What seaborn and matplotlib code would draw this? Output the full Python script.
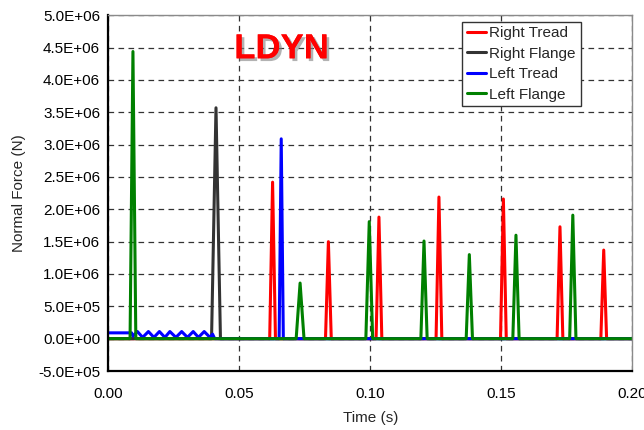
import numpy as np
import pandas as pd
import matplotlib
matplotlib.use("Agg")
import matplotlib.pyplot as plt
import matplotlib.patheffects as pe
import seaborn as sns

# ---- data ----
rt_t = [0.0, 0.0616, 0.0627, 0.0638, 0.0829, 0.0840, 0.0851, 0.1022, 0.1033, 0.1044,
        0.1251, 0.1262, 0.1273, 0.1497, 0.1508, 0.1519, 0.1713, 0.1724, 0.1735,
        0.1880, 0.1891, 0.1902, 0.2]
rt_f = [0, 0, 2.42e6, 0, 0, 1.50e6, 0, 0, 1.88e6, 0,
        0, 2.19e6, 0, 0, 2.16e6, 0, 0, 1.73e6, 0,
        0, 1.37e6, 0, 0]

rf_t = [0.0, 0.0394, 0.0411, 0.0428, 0.2]
rf_f = [0, 0, 3.57e6, 0, 0]

lt_t = [0.0, 0.0089, 0.0094, 0.0111, 0.0131, 0.0153, 0.0174, 0.0195, 0.0216, 0.0235,
        0.0258, 0.0280, 0.0302, 0.0324, 0.0344, 0.0366, 0.0388, 0.0398, 0.0406,
        0.0652, 0.0660, 0.0668, 0.2]
lt_f = [0.09e6, 0.09e6, 0.04e6, 0.11e6, 0.02e6, 0.11e6, 0.02e6, 0.11e6, 0.02e6, 0.11e6,
        0.02e6, 0.11e6, 0.02e6, 0.11e6, 0.02e6, 0.11e6, 0.02e6, 0.07e6, 0,
        0, 3.09e6, 0, 0]

lf_t = [0.0, 0.0083, 0.0094, 0.0105, 0.0717, 0.0732, 0.0747, 0.0983, 0.0996, 0.1009,
        0.1193, 0.1205, 0.1217, 0.1366, 0.1378, 0.1390, 0.1544, 0.1556, 0.1568,
        0.1761, 0.1773, 0.1785, 0.2]
lf_f = [0, 0, 4.44e6, 0, 0, 0.86e6, 0, 0, 1.81e6, 0,
        0, 1.51e6, 0, 0, 1.30e6, 0, 0, 1.60e6, 0,
        0, 1.91e6, 0, 0]

series_names = ["Right Tread", "Right Flange", "Left Tread", "Left Flange"]
series_colors = ["#FF0000", "#333333", "#0000FF", "#008000"]

yticks = [-5e5, 0, 5e5, 1e6, 1.5e6, 2e6, 2.5e6, 3e6, 3.5e6, 4e6, 4.5e6, 5e6]
ytick_labels = ["-5.0E+05", "0.0E+00", "5.0E+05", "1.0E+06", "1.5E+06", "2.0E+06",
                "2.5E+06", "3.0E+06", "3.5E+06", "4.0E+06", "4.5E+06", "5.0E+06"]
xticks = [0.0, 0.05, 0.10, 0.15, 0.20]
xtick_labels = ["0.00", "0.05", "0.10", "0.15", "0.20"]

frames = []
for name, t, f in zip(series_names, [rt_t, rf_t, lt_t, lf_t], [rt_f, rf_f, lt_f, lf_f]):
    frames.append(pd.DataFrame({"t": t, "F": f, "series": name}))
df = pd.concat(frames, ignore_index=True)

# ---- figure ----
sns.set_style("white")
plt.rcParams["font.family"] = ["Liberation Sans", "DejaVu Sans"]

fig = plt.figure(figsize=(6.44, 4.30), dpi=100)
ax = fig.add_axes([0.1682, 0.1372, 0.9818 - 0.1682, 0.9644 - 0.1372])

sns.lineplot(data=df, x="t", y="F", hue="series", hue_order=series_names,
             palette=series_colors, sort=False, estimator=None, units="series",
             linewidth=2.2, ax=ax, legend=True)
for ln in ax.get_lines():
    ln.set_solid_joinstyle("round")

ax.set_xlim(0, 0.2)
ax.set_ylim(-5e5, 5e6)
ax.set_xticks(xticks)
ax.set_xticklabels(xtick_labels)
ax.set_yticks(yticks)
ax.set_yticklabels(ytick_labels)
ax.tick_params(axis="both", direction="inout", length=7, width=1.5, colors="black",
               labelsize=11, labelcolor="black")
ax.tick_params(axis="y", pad=2.4)
ax.tick_params(axis="x", pad=8)

ax.grid(True, linestyle=(0, (4.5, 3.5)), color="#333333", linewidth=0.9)
ax.set_axisbelow(True)

for s in ["left", "bottom"]:
    ax.spines[s].set_color("black")
    ax.spines[s].set_linewidth(1.6)
for s in ["top", "right"]:
    ax.spines[s].set_color("#8a8a8a")
    ax.spines[s].set_linewidth(1.0)

ax.set_xlabel("Time (s)", fontsize=11)
ax.set_ylabel("Normal Force (N)", fontsize=11)
ax.xaxis.set_label_coords(0.5, -0.113)
ax.yaxis.set_label_coords(-0.157, 0.5)

leg = ax.legend(loc="upper left", bbox_to_anchor=(0.675, 0.982), fontsize=11,
                frameon=True, fancybox=False, framealpha=1, edgecolor="#333333",
                handlelength=1.25, handletextpad=0.25, labelspacing=0.42,
                borderpad=0.3, borderaxespad=0)
leg.get_frame().set_linewidth(1.0)
for h in leg.legend_handles:
    h.set_linewidth(2.2)

fig.text(281.7 / 644, 1 - 58.3 / 430, "LDYN", color="#FF0000", fontsize=25,
         fontweight="bold", ha="center", va="baseline",
         path_effects=[pe.withSimplePatchShadow(offset=(2, -2), shadow_rgbFace="#808080", alpha=0.6),
                       pe.Normal()])

fig.savefig("out.png", dpi=100)
